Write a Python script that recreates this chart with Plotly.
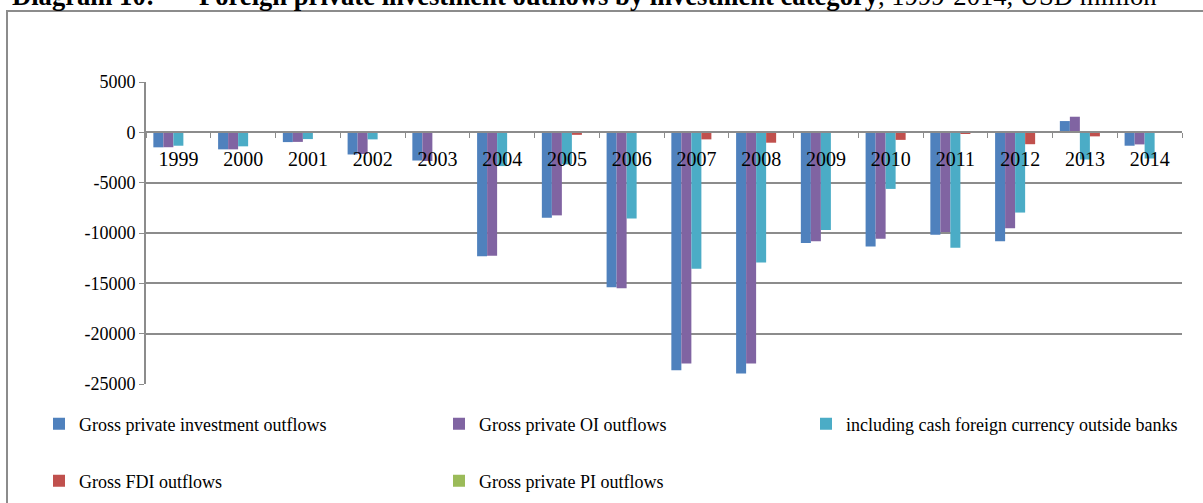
import plotly.graph_objects as go

years = ["1999", "2000", "2001", "2002", "2003", "2004", "2005", "2006",
         "2007", "2008", "2009", "2010", "2011", "2012", "2013", "2014"]

gross_private_investment = [-1490, -1690, -970, -2200, -2800, -12300, -8490, -15400,
                            -23630, -23960, -11000, -11330, -10170, -10830, 1120, -1330]
gross_private_oi = [-1480, -1690, -950, -2150, -2850, -12270, -8250, -15500,
                    -22960, -22960, -10830, -10560, -9900, -9540, 1550, -1200]
cash_foreign_currency = [-1330, -1390, -670, -700, 0, -3350, -3180, -8550,
                         -13560, -12920, -9700, -5620, -11470, -7970, -2700, -2600]
gross_fdi = [0, 0, 0, 0, 0, 0, -250, 120,
             -700, -1030, -60, -750, -80, -1180, -400, 0]
gross_private_pi = [0, 0, 0, 0, 0, 0, 0, 0,
                    0, 0, 0, 0, 0, 0, 0, 0]

series_names = ["Gross private investment outflows", "Gross private OI outflows",
                "including cash foreign currency outside banks", "Gross FDI outflows",
                "Gross private PI outflows"]
series_values = [gross_private_investment, gross_private_oi, cash_foreign_currency,
                 gross_fdi, gross_private_pi]
colors = ["#4F81BD", "#8064A2", "#4BACC6", "#C0504D", "#9BBB59"]

y_tickvals = [5000, 0, -5000, -10000, -15000, -20000, -25000]
y_ticktext = ["5000", "0", "-5000", "-10000", "-15000", "-20000", "-25000"]

W, H = 1203, 503
ML, MR, MT, MB = 146, 21, 82, 119
PW, PH = W - ML - MR, H - MT - MB


def px_x(p):
    return (p - ML) / PW


def px_y(p):
    return (H - MB - p) / PH


legend_pos = [(79, 424), (479, 424), (846, 424), (79, 481), (479, 481)]
legend_keys = ["legend", "legend2", "legend3", "legend4", "legend5"]

fig = go.Figure()
for name, vals, col, lk in zip(series_names, series_values, colors, legend_keys):
    fig.add_trace(go.Bar(x=years, y=vals, name=name, marker_color=col,
                         marker_line_width=0, legend=lk))

serif = "Liberation Serif"
grid = "#8C8C8C"

layout_legends = {}
for lk, (lx, ly) in zip(legend_keys, legend_pos):
    layout_legends[lk] = dict(x=px_x(lx - 40), y=px_y(ly), xanchor="left", yanchor="middle",
                              font=dict(family=serif, size=18, color="#000000"),
                              bgcolor="rgba(0,0,0,0)", orientation="h")

fig.update_layout(
    width=W, height=H,
    margin=dict(l=ML, r=MR, t=MT, b=MB, autoexpand=False),
    paper_bgcolor="white", plot_bgcolor="white",
    barmode="group", bargap=0.227, bargroupgap=0,
    showlegend=True,
    font=dict(family=serif, color="#000000"),
    xaxis=dict(type="category", anchor="free", position=25000 / 30000,
               showline=True, linecolor=grid, linewidth=2,
               ticks="outside", tickson="boundaries", ticklen=5, tickcolor=grid,
               ticklabelstandoff=9,
               tickfont=dict(family=serif, size=20, color="#000000"),
               showgrid=False, layer="above traces", range=[-0.5, 15.5]),
    yaxis=dict(range=[-25000, 5000], tickvals=y_tickvals, ticktext=y_ticktext,
               showline=True, linecolor=grid, linewidth=2,
               ticks="outside", ticklen=5, tickcolor=grid,
               showgrid=True, gridcolor=grid, gridwidth=1.5,
               zeroline=False,
               tickfont=dict(family=serif, size=18, color="#000000")),
    **layout_legends,
)

fig.add_shape(type="rect", xref="paper", yref="paper",
              x0=px_x(7), x1=px_x(1300), y0=px_y(11), y1=px_y(560),
              line=dict(color=grid, width=2), fillcolor="rgba(0,0,0,0)", layer="below")

fig.add_annotation(xref="paper", yref="paper", x=px_x(10), y=px_y(-4),
                   xanchor="left", yanchor="middle", showarrow=False,
                   text="<b>Diagram 10:</b>",
                   font=dict(family=serif, size=26.6, color="#000000"))
fig.add_annotation(xref="paper", yref="paper", x=px_x(197), y=px_y(-4),
                   xanchor="left", yanchor="middle", showarrow=False,
                   text="<b>Foreign private investment outflows by investment category</b>, 1999-2014, USD million",
                   font=dict(family=serif, size=26.6, color="#000000"))

fig.write_html("out.html")
